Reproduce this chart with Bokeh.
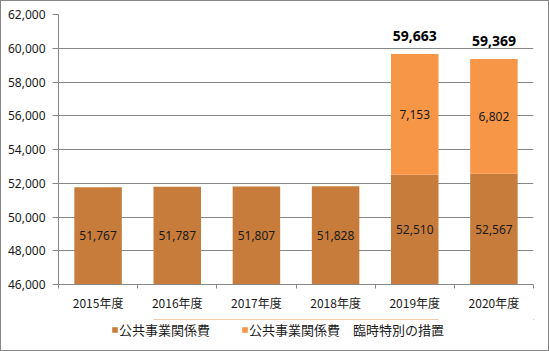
from bokeh.plotting import figure
from bokeh.models import (ColumnDataSource, FixedTicker, NumeralTickFormatter, Legend,
                          LegendItem, Range1d, Column)
from bokeh.core.properties import value
from bokeh.embed import file_html
from bokeh.resources import INLINE

# ---- data ----
years = ["2015年度", "2016年度", "2017年度", "2018年度", "2019年度", "2020年度"]
base = [51767, 51787, 51807, 51828, 52510, 52567]
extra = [0, 0, 0, 0, 7153, 6802]
base_name = "公共事業関係費"
extra_name = "公共事業関係費　臨時特別の措置"
y_ticks = [46000, 48000, 50000, 52000, 54000, 56000, 58000, 60000, 62000]

# ---- style ----
C_BASE = "#C87C3C"
C_EXTRA = "#F79646"
GRID = "#878787"
NUM_FONT = "Noto Sans"
JP_FONT = "Noto Sans CJK JP"

y0, y1 = y_ticks[0], y_ticks[-1]
xs = [i + 0.5 for i in range(len(years))]

src = ColumnDataSource(dict(
    x=xs, base=base, top=[b + e for b, e in zip(base, extra)],
    bottom0=[y0] * len(xs),
    base_mid=[(y0 + b) / 2 for b in base],
    base_lbl=[f"{b:,}" for b in base],
))
idx = [i for i, e in enumerate(extra) if e > 0]
src2 = ColumnDataSource(dict(
    x=[xs[i] for i in idx],
    mid=[base[i] + extra[i] / 2 for i in idx],
    lbl=[f"{extra[i]:,}" for i in idx],
    tot=[base[i] + extra[i] for i in idx],
    tot_lbl=[f"{base[i] + extra[i]:,}" for i in idx],
))

MAIN_H = 318
FRAME_LEFT = 57
p = figure(width=547, height=MAIN_H, x_range=Range1d(0, len(years)), y_range=Range1d(y0, y1),
           output_backend="svg", toolbar_location=None,
           min_border_left=FRAME_LEFT, min_border_right=15, min_border_top=13,
           min_border_bottom=MAIN_H - 283)
p.outline_line_color = None
p.background_fill_color = "white"
p.border_fill_color = "white"

r1 = p.vbar(x="x", bottom="bottom0", top="base", width=0.6, source=src,
            fill_color=C_BASE, line_color=None)
r2 = p.vbar(x="x", bottom="base", top="top", width=0.6, source=src,
            fill_color=C_EXTRA, line_color=None)

p.text(x="x", y="base_mid", text="base_lbl", source=src, text_align="center",
       text_baseline="middle", text_font=value(NUM_FONT), text_font_size="12px",
       text_color="#1a1a1a")
p.text(x="x", y="mid", text="lbl", source=src2, text_align="center",
       text_baseline="middle", text_font=value(NUM_FONT), text_font_size="12px",
       text_color="#1a1a1a")
p.text(x="x", y="tot", text="tot_lbl", source=src2, text_align="center",
       text_baseline="middle", y_offset=-18, text_font=value(NUM_FONT),
       text_font_size="14px", text_font_style="bold", text_color="black")

# axes
p.xgrid.visible = False
p.ygrid.ticker = FixedTicker(ticks=y_ticks)
p.ygrid.grid_line_color = GRID
p.ygrid.grid_line_width = 1

ya = p.yaxis[0]
ya.ticker = FixedTicker(ticks=y_ticks)
ya.formatter = NumeralTickFormatter(format="0,0")
ya.axis_line_color = GRID
ya.major_tick_line_color = GRID
ya.major_tick_out = 6
ya.major_tick_in = 0
ya.minor_tick_line_color = None
ya.major_label_standoff = 7
ya.major_label_text_font = NUM_FONT
ya.major_label_text_font_size = "12px"
ya.major_label_text_color = "#1a1a1a"

xa = p.xaxis[0]
xa.ticker = FixedTicker(ticks=xs, minor_ticks=list(range(len(years) + 1)))
xa.major_label_overrides = {x: y for x, y in zip(xs, years)}
xa.axis_line_color = GRID
xa.major_tick_line_color = None
xa.major_tick_out = 0
xa.major_tick_in = 0
xa.minor_tick_line_color = GRID
xa.minor_tick_out = 4
xa.minor_tick_in = 0
xa.major_label_standoff = 5
xa.major_label_text_font = JP_FONT
xa.major_label_text_font_size = "12px"
xa.major_label_text_color = "#1a1a1a"

# ---- legend strip (frames are aligned by the column layout) ----
LEG_H = 349 - MAIN_H
pl = figure(width=547, height=LEG_H, x_range=Range1d(0, 1), y_range=Range1d(0, 1),
            output_backend="svg", toolbar_location=None,
            x_axis_location=None, y_axis_location=None,
            min_border_left=0, min_border_right=0, min_border_top=0, min_border_bottom=0)
pl.outline_line_color = None
pl.xgrid.visible = False
pl.ygrid.visible = False
pl.border_fill_color = "white"
# same data, out of this strip's range: only their legend swatches show
l1 = pl.vbar(x="x", bottom="bottom0", top="base", width=0.6, source=src,
             fill_color=C_BASE, line_color=None)
l2 = pl.vbar(x="x", bottom="base", top="top", width=0.6, source=src,
             fill_color=C_EXTRA, line_color=None)

legend = Legend(items=[LegendItem(label=base_name, renderers=[l1], index=0),
                       LegendItem(label=extra_name, renderers=[l2], index=0)],
                orientation="horizontal", location=(110 - FRAME_LEFT, 11),
                padding=0, margin=0, spacing=31, label_standoff=1,
                glyph_width=7, glyph_height=7, label_height=14,
                label_text_font=JP_FONT, label_text_font_size="13px",
                label_text_color="#1a1a1a",
                border_line_color=None, background_fill_alpha=0)
pl.add_layout(legend, "center")

layout = Column(children=[p, pl], spacing=0,
                styles={"border": "1px solid #868686", "background": "white"})

open("out.html", "w").write(file_html(layout, INLINE))
